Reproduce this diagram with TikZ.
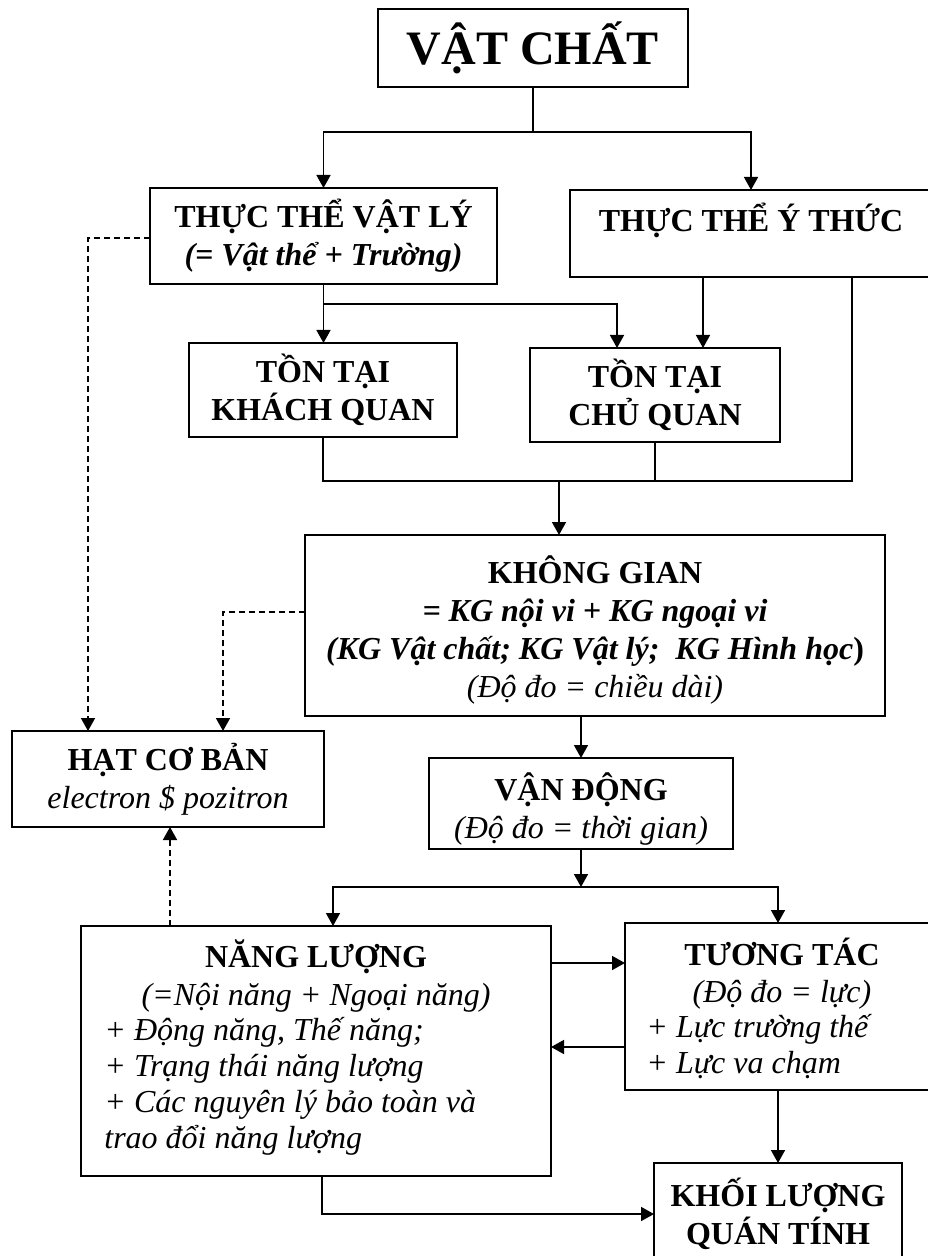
\documentclass[tikz,border=0pt]{standalone}
\usepackage{fontspec}
\setmainfont{Liberation Serif}
\usetikzlibrary{arrows.meta,calc}

\begin{document}
\begin{tikzpicture}[x=0.5pt, y=-0.5pt,
    box/.style={draw, line width=1pt, inner sep=0pt, outer sep=0pt, align=center,
      font=\fontsize{16}{19}\selectfont\bfseries},
    arr/.style={line width=0.8pt, -{Triangle[length=6.5pt,width=7pt]}},
    dasharr/.style={arr, dash pattern=on 3pt off 2pt},
    txt/.style={inner sep=0pt, font=\fontsize{16}{19}\selectfont}]
  \useasboundingbox (0,0) rectangle (927,1256);
  % boxes
  \node[box, minimum width=155pt, minimum height=39pt, font=\fontsize{24}{28}\selectfont\bfseries]
    (vatchat) at (533,48) {VẬT CHẤT};
  \node[box, minimum width=173.5pt, minimum height=48pt] (vatly) at (323.5,236)
    {THỰC THỂ VẬT LÝ\\ \textit{(= Vật thể + Trường)}};
  \node[box, minimum width=181pt, minimum height=43.5pt] (ythuc) at (751,233.5) {};
  \node[txt, font=\fontsize{16}{19}\selectfont\bfseries] (ythuc-t) at (751,220) {THỰC THỂ Ý THỨC};
  \node[box, minimum width=134pt, minimum height=47pt] (khachquan) at (323,390)
    {TỒN TẠI\\ KHÁCH QUAN};
  \node[box, minimum width=125pt, minimum height=47pt] (chuquan) at (655,395)
    {TỒN TẠI\\ CHỦ QUAN};
  \node[box, minimum width=290pt, minimum height=90.5pt] (khonggian) at (595,625.5) {};
  \node[txt, align=center, font=\fontsize{16}{19}\selectfont\bfseries] (khonggian-t) at (595,630)
    {KHÔNG GIAN\\ \textit{= KG nội vi + KG ngoại vi}\\
     \textit{(KG Vật chất; KG Vật lý;~ KG Hình học})\\
     {\normalfont\itshape (Độ đo = chiều dài)}};
  \node[box, minimum width=156pt, minimum height=48pt] (hat) at (168,779)
    {HẠT CƠ BẢN\\ {\normalfont\itshape electron \$ pozitron}};
  \node[box, minimum width=152pt, minimum height=45.5pt] (vandong) at (581,803.5) {};
  \node[txt, align=center, font=\fontsize{16}{19}\selectfont\bfseries] (vandong-t) at (581,809)
    {VẬN ĐỘNG\\ {\normalfont\itshape (Độ đo = thời gian)}};
  \node[box, minimum width=235pt, minimum height=125pt] (nangluong) at (316,1051) {};
  \node[txt, align=center] (nangluong-t) at (316,976)
    {\textbf{NĂNG LƯỢNG}\\ \textit{(=Nội năng + Ngoại năng)}};
  \node[txt, align=left, anchor=west, font=\fontsize{16}{18}\selectfont\itshape] (nangluong-l) at (104,1086)
    {+ Động năng, Thế năng;\\ + Trạng thái năng lượng\\ + Các nguyên lý bảo toàn và\\ trao đổi năng lượng};
  \node[box, minimum width=157.5pt, minimum height=83.5pt] (tuongtac) at (782.5,1006.5) {};
  \node[txt, align=center, font=\fontsize{16}{18.5}\selectfont] (tuongtac-t) at (782,973.5)
    {\textbf{TƯƠNG TÁC}\\ \textit{(Độ đo = lực)}};
  \node[txt, align=left, anchor=west, font=\fontsize{16}{18}\selectfont\itshape] (tuongtac-l) at (646,1047)
    {+ Lực trường thế\\ + Lực va chạm};
  \node[box, minimum width=124pt, minimum height=51pt] (khoiluong) at (778,1214)
    {KHỐI LƯỢNG\\ QUÁN TÍNH};
  % junctions
  \coordinate (j1) at (533,132);
  \coordinate (j2) at (323.5,304);
  \coordinate (j3) at (559,481);
  \coordinate (j4) at (581,887);
  % connectors
  \draw[line width=0.8pt] (vatchat.south) -- (j1);
  \draw[arr] (j1) -| (vatly.north);
  \draw[arr] (j1) -| (ythuc.north);
  \draw[line width=0.8pt] (vatly.south) -- (j2);
  \draw[arr] (j2) -- (khachquan.north -| j2);
  \draw[arr] (j2) -| ([xshift=-19pt]chuquan.north);
  \draw[arr] ([xshift=-24pt]ythuc.south) -- ([xshift=24pt]chuquan.north);
  \draw[line width=0.8pt] (khachquan.south) |- (j3) -| ([xshift=50.5pt]ythuc.south);
  \draw[line width=0.8pt] (chuquan.south) -- (chuquan.south |- j3);
  \draw[arr] (j3) -- (khonggian.north -| j3);
  \draw[arr] (khonggian.south -| vandong.north) -- (vandong.north);
  \draw[arr] (vandong.south) -- (j4);
  \draw[arr] (j4) -| ([xshift=8.5pt]nangluong.north);
  \draw[arr] (j4) -| ([xshift=-2.25pt]tuongtac.north);
  \draw[arr] ([yshift=44pt]nangluong.east) -- ([yshift=44pt]nangluong.east -| tuongtac.west);
  \draw[arr] ([yshift=2pt]nangluong.east -| tuongtac.west) -- ([yshift=2pt]nangluong.east);
  \draw[arr] (tuongtac.south -| khoiluong.north) -- (khoiluong.north);
  \draw[arr] ([xshift=3pt]nangluong.south) |- (khoiluong.west);
  % dashed links to the particles
  \draw[dasharr] ([yshift=-1pt]vatly.west) -| ([xshift=-40pt]hat.north);
  \draw[dasharr] ([yshift=6.75pt]khonggian.west) -| ([xshift=27.5pt]hat.north);
  \draw[dasharr] ([xshift=-73pt]nangluong.north) -- ([xshift=-73pt]nangluong.north |- hat.south);
\end{tikzpicture}
\end{document}
